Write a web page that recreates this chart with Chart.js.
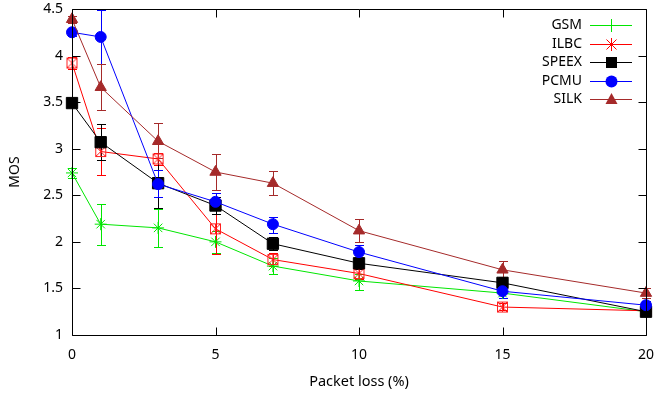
<!DOCTYPE html>
<html>
<head>
<meta charset="utf-8">
<script src="https://cdn.jsdelivr.net/npm/chart.js@4.4.0/dist/chart.umd.min.js"></script>
<style>
  html, body { margin: 0; padding: 0; background: #fff; }
  canvas { display: block; }
</style>
</head>
<body>
<canvas id="myChart" width="655" height="397"></canvas>
<script>
// packet loss values (x)
const lossX = [0, 1, 3, 5, 7, 10, 15, 20];

// MOS means per codec
const gsm   = [2.74, 2.19, 2.15, 2.00, 1.74, 1.58, 1.45, 1.25];
const ilbc  = [3.92, 2.97, 2.89, 2.14, 1.81, 1.66, 1.30, 1.26];
const speex = [3.49, 3.07, 2.63, 2.39, 1.98, 1.77, 1.56, 1.25];
const pcmu  = [4.25, 4.20, 2.62, 2.43, 2.19, 1.89, 1.47, 1.32];
const silk  = [4.39, 3.66, 3.08, 2.75, 2.63, 2.12, 1.70, 1.45];

// error bars (low / high)
const gsmLo   = [2.69, 1.97, 1.95, 1.88, 1.65, 1.48, 1.40, 1.21];
const gsmHi   = [2.79, 2.41, 2.35, 2.12, 1.83, 1.66, 1.50, 1.29];
const ilbcLo  = [3.86, 2.72, 2.83, 1.87, 1.74, 1.60, 1.27, 1.23];
const ilbcHi  = [3.98, 3.22, 2.95, 2.41, 1.88, 1.72, 1.34, 1.29];
const speexLo = [3.45, 2.88, 2.36, 2.30, 1.91, 1.71, 1.50, 1.20];
const speexHi = [3.53, 3.26, 2.90, 2.48, 2.05, 1.83, 1.62, 1.30];
const pcmuLo  = [4.21, 3.91, 2.48, 2.35, 2.10, 1.80, 1.40, 1.28];
const pcmuHi  = [4.29, 4.49, 2.77, 2.52, 2.27, 1.97, 1.54, 1.36];
const silkLo  = [4.35, 3.42, 2.90, 2.56, 2.50, 2.00, 1.62, 1.40];
const silkHi  = [4.43, 3.91, 3.28, 2.94, 2.76, 2.25, 1.79, 1.50];

const xTicks = [0, 5, 10, 15, 20];
const yTicks = [1, 1.5, 2, 2.5, 3, 3.5, 4, 4.5];

const FONT = '"Noto Sans"';

// boxed asterisk marker for ILBC
function boxStar(color){
    const c = document.createElement('canvas');
    c.width = 13; c.height = 13;
    const g = c.getContext('2d');
    g.strokeStyle = color;
    g.lineWidth = 1;
    g.strokeRect(1.5, 1.5, 10, 10);
    g.beginPath();
    g.moveTo(1.5, 1.5); g.lineTo(11.5, 11.5);
    g.moveTo(11.5, 1.5); g.lineTo(1.5, 11.5);
    g.moveTo(6.5, 1.5); g.lineTo(6.5, 11.5);
    g.stroke();
    return c;
}

function pts(vals){
    return lossX.map((x, i) => ({x: x, y: vals[i]}));
}

const series = [
    {label: 'GSM',   vals: gsm,   lo: gsmLo,   hi: gsmHi,   color: '#00e600', style: 'star',  r: 6, fill: false, legend: 'plus'},
    {label: 'ILBC',  vals: ilbc,  lo: ilbcLo,  hi: ilbcHi,  color: '#ff0000', style: boxStar('#ff2020'), r: 6, fill: false, legend: 'star'},
    {label: 'SPEEX', vals: speex, lo: speexLo, hi: speexHi, color: '#000000', style: 'rect',  r: 8, fill: true, legend: 'rect'},
    {label: 'PCMU',  vals: pcmu,  lo: pcmuLo,  hi: pcmuHi,  color: '#0000ff', style: 'circle', r: 5.5, fill: true, legend: 'circle'},
    {label: 'SILK',  vals: silk,  lo: silkLo,  hi: silkHi,  color: '#a52a2a', style: 'triangle', r: 6.5, fill: true, legend: 'triangle'}
];

// error bars, frame with inner ticks, and the key
const gnuplotLook = {
    id: 'gnuplotLook',
    beforeDatasetsDraw(chart){
        const ctx = chart.ctx;
        const xs = chart.scales.x, ys = chart.scales.y;
        ctx.save();
        ctx.lineWidth = 1;
        series.forEach(s => {
            ctx.strokeStyle = s.color;
            ctx.beginPath();
            lossX.forEach((x, i) => {
                const px = Math.round(xs.getPixelForValue(x)) + 0.5;
                const y1 = Math.round(ys.getPixelForValue(s.lo[i])) + 0.5;
                const y2 = Math.round(ys.getPixelForValue(s.hi[i])) + 0.5;
                ctx.moveTo(px, y1); ctx.lineTo(px, y2);
                ctx.moveTo(px - 4.5, y1); ctx.lineTo(px + 4.5, y1);
                ctx.moveTo(px - 4.5, y2); ctx.lineTo(px + 4.5, y2);
            });
            ctx.stroke();
        });
        ctx.restore();
    },
    afterDraw(chart){
        const ctx = chart.ctx;
        const a = chart.chartArea;
        const xs = chart.scales.x, ys = chart.scales.y;
        ctx.save();
        ctx.strokeStyle = '#000';
        ctx.lineWidth = 1;
        const L = Math.round(a.left) + 0.5, R = Math.round(a.right) + 0.5;
        const T = Math.round(a.top) + 0.5, B = Math.round(a.bottom) + 0.5;
        ctx.beginPath();
        ctx.rect(L, T, R - L, B - T);
        xTicks.forEach(v => {
            const p = Math.round(xs.getPixelForValue(v)) + 0.5;
            ctx.moveTo(p, B); ctx.lineTo(p, B - 8);
            ctx.moveTo(p, T); ctx.lineTo(p, T + 8);
        });
        yTicks.forEach(v => {
            const p = Math.round(ys.getPixelForValue(v)) + 0.5;
            ctx.moveTo(L, p); ctx.lineTo(L + 8, p);
            ctx.moveTo(R, p); ctx.lineTo(R - 8, p);
        });
        ctx.stroke();

        // key
        ctx.font = '14px ' + FONT;
        ctx.textAlign = 'right';
        ctx.textBaseline = 'middle';
        series.forEach((s, i) => {
            const y = Math.round(25 + i * 18.5);
            ctx.fillStyle = '#000';
            ctx.fillText(s.label, 582, y);
            ctx.fillStyle = s.color;
            ctx.strokeStyle = s.color;
            ctx.lineWidth = 1;
            ctx.fillRect(590, y, 42, 1);
            const cx = 611;
            if (s.legend === 'plus'){
                ctx.fillRect(cx - 6, y, 13, 1);
                ctx.fillRect(cx, y - 6, 1, 13);
            } else if (s.legend === 'star'){
                ctx.fillRect(cx - 6, y, 13, 1);
                ctx.fillRect(cx, y - 6, 1, 13);
                ctx.beginPath();
                ctx.moveTo(cx - 4.5, y - 4.5); ctx.lineTo(cx + 5.5, y + 5.5);
                ctx.moveTo(cx + 5.5, y - 4.5); ctx.lineTo(cx - 4.5, y + 5.5);
                ctx.stroke();
            } else if (s.legend === 'rect'){
                ctx.fillRect(cx - 5, y - 5, 11, 11);
            } else if (s.legend === 'circle'){
                ctx.beginPath();
                ctx.arc(cx + 0.5, y + 0.5, 6, 0, Math.PI * 2);
                ctx.fill();
            } else {
                ctx.beginPath();
                ctx.moveTo(cx + 0.5, y - 6); ctx.lineTo(cx + 6.5, y + 5); ctx.lineTo(cx - 5.5, y + 5);
                ctx.closePath();
                ctx.fill();
            }
        });
        ctx.restore();
    }
};

const ctx = document.getElementById('myChart').getContext('2d');
const chart = new Chart(ctx, {
    type: 'line',
    data: {
        datasets: series.map((s, i) => ({
            label: s.label,
            data: pts(s.vals),
            borderColor: s.color,
            backgroundColor: s.fill ? s.color : 'rgba(0,0,0,0)',
            pointBackgroundColor: s.fill ? s.color : 'rgba(0,0,0,0)',
            pointBorderColor: s.color,
            pointStyle: s.style,
            pointRadius: s.r,
            pointBorderWidth: 1,
            borderWidth: 1,
            tension: 0,
            fill: false,
            clip: false,
            order: series.length - i
        }))
    },
    options: {
        responsive: false,
        animation: false,
        events: [],
        layout: { padding: { left: 0, right: 7, top: 7, bottom: 0 } },
        plugins: {
            legend: { display: false },
            tooltip: { enabled: false }
        },
        scales: {
            x: {
                type: 'linear',
                min: 0, max: 20,
                grid: { display: false, drawTicks: false },
                border: { display: false },
                ticks: {
                    stepSize: 5,
                    padding: 12,
                    color: '#000',
                    maxRotation: 0,
                    font: { family: FONT, size: 14 },
                    callback: v => '' + v
                },
                title: {
                    display: true,
                    text: 'Packet loss (%)',
                    color: '#000',
                    padding: { top: 4, bottom: 6 },
                    font: { family: FONT, size: 14.5 }
                },
                afterFit: s => { s.height = 62; s.paddingLeft = 0; s.paddingRight = 0; }
            },
            y: {
                min: 1, max: 4.5,
                grid: { display: false, drawTicks: false },
                border: { display: false },
                ticks: {
                    stepSize: 0.5,
                    padding: 9,
                    color: '#000',
                    font: { family: FONT, size: 14 },
                    callback: v => '' + v
                },
                title: {
                    display: true,
                    text: 'MOS',
                    color: '#000',
                    padding: { top: 7, bottom: 4 },
                    font: { family: FONT, size: 14 }
                },
                afterFit: s => { s.width = 72; s.paddingTop = 0; s.paddingBottom = 0; }
            }
        }
    },
    plugins: [gnuplotLook]
});
</script>
</body>
</html>
